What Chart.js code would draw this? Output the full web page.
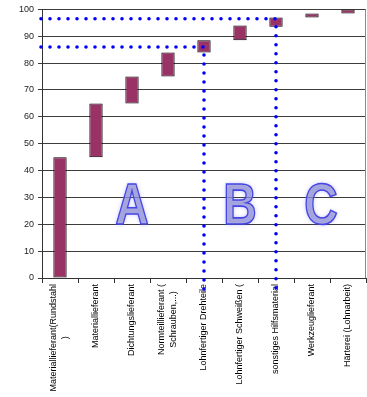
<!DOCTYPE html>
<html>
<head>
<meta charset="utf-8">
<script src="https://cdn.jsdelivr.net/npm/chart.js@4.4.0/dist/chart.umd.min.js"></script>
<style>
  html, body { margin: 0; padding: 0; background: #fff; }
  #wrap { width: 367px; height: 397px; }
</style>
</head>
<body>
<div id="wrap"><canvas id="abc-chart" width="367" height="397"></canvas></div>
<script>
// categories (suppliers), multi-line where the original wraps
const categories = [
  ['Materiallieferant(Rundstahl', ')'],
  'Materiallieferant',
  'Dichtungslieferant',
  ['Normteillieferant (', 'Schrauben,...)'],
  'Lohnfertiger Drehteile',
  'Lohnfertiger Schweißen (',
  'sonstiges Hilfsmaterial',
  'Werkzeuglieferant',
  'Härterei (Lohnarbeit)'
];

// cumulative share, floating bars from -> to
const shareFrom = [0, 45, 65, 75, 84, 88.5, 93.5, 97, 98.5];
const shareTo = [45, 65, 75, 84, 88.5, 94, 97, 98.5, 100];

const yTicks = [0, 10, 20, 30, 40, 50, 60, 70, 80, 90, 100];

// ABC class limits (cumulative %) and the category where each limit falls
const classLimits = [86, 96.5];
const limitCategory = [4, 6];
const classLetters = ['A', 'B', 'C'];

// draws the dotted class limits, the A/B/C letters, labels and right border
const abcPlugin = {
  id: 'abcPlugin',
  beforeDatasetsDraw(chart) {
    const { ctx, scales: { x, y } } = chart;
    const letterPos = [2, 5, 7.25];
    ctx.save();
    ctx.font = 'bold 58px "Liberation Sans", Arial, sans-serif';
    ctx.textAlign = 'center';
    ctx.textBaseline = 'alphabetic';
    classLetters.forEach((letter, i) => {
      const idx = letterPos[i];
      const lo = Math.floor(idx);
      const px = x.getPixelForValue(lo) + (idx - lo) * (x.getPixelForValue(1) - x.getPixelForValue(0));
      const py = y.getPixelForValue(20);
      ctx.save();
      ctx.translate(px, py);
      ctx.scale(0.8, 1);
      ctx.shadowColor = 'rgba(90, 90, 255, 0.7)';
      ctx.shadowBlur = 4;
      ctx.fillStyle = 'rgba(150, 150, 205, 0.65)';
      ctx.fillText(letter, 0, 0);
      ctx.shadowBlur = 0;
      ctx.lineWidth = 1.6;
      ctx.strokeStyle = '#4646e6';
      ctx.strokeText(letter, 0, 0);
      ctx.restore();
    });
    ctx.restore();
  },
  afterDraw(chart) {
    const { ctx, chartArea, scales: { x, y } } = chart;
    ctx.save();

    // right border of the plot area
    ctx.strokeStyle = '#8a8a8a';
    ctx.lineWidth = 1;
    ctx.beginPath();
    ctx.moveTo(chartArea.right - 0.5, chartArea.top);
    ctx.lineTo(chartArea.right - 0.5, chartArea.bottom);
    ctx.stroke();

    // category labels, rotated, lines centred on each other
    ctx.font = '9px "Liberation Sans", Arial, sans-serif';
    ctx.fillStyle = '#000';
    ctx.textAlign = 'center';
    ctx.textBaseline = 'middle';
    const top = chartArea.bottom + 6;
    const lineGap = 12;
    categories.forEach((label, i) => {
      const lines = Array.isArray(label) ? label : [label];
      const w = Math.max(...lines.map(l => ctx.measureText(l).width));
      const cx = x.getPixelForValue(i);
      lines.forEach((line, j) => {
        const lx = cx + (j - (lines.length - 1) / 2) * lineGap;
        ctx.save();
        ctx.translate(lx, top);
        ctx.rotate(-Math.PI / 2);
        ctx.fillText(line, -w / 2, 0);
        ctx.restore();
      });
    });

    // dotted class limits
    ctx.strokeStyle = '#0000ff';
    ctx.lineWidth = 3.6;
    ctx.lineCap = 'round';
    ctx.setLineDash([0, 9]);
    classLimits.forEach((limit, i) => {
      const py = y.getPixelForValue(limit);
      const px = x.getPixelForValue(limitCategory[i]);
      ctx.beginPath();
      ctx.moveTo(chartArea.left - 1, py);
      ctx.lineTo(px, py);
      ctx.lineTo(px, chartArea.bottom + 16);
      ctx.stroke();
    });
    ctx.restore();
  }
};

new Chart(document.getElementById('abc-chart'), {
  type: 'bar',
  data: {
    labels: categories,
    datasets: [{
      data: shareFrom.map((v, i) => [v, shareTo[i]]),
      backgroundColor: '#993366',
      borderColor: '#000',
      borderWidth: 1,
      borderSkipped: false,
      barPercentage: 0.37,
      categoryPercentage: 1
    }]
  },
  options: {
    responsive: false,
    devicePixelRatio: 1,
    animation: false,
    layout: { padding: { top: 3, right: 1, left: 0, bottom: 0 } },
    plugins: {
      legend: { display: false },
      tooltip: { enabled: false }
    },
    scales: {
      x: {
        offset: true,
        grid: {
          offset: true,
          drawOnChartArea: false,
          drawTicks: true,
          tickLength: 5,
          color: '#333'
        },
        border: { display: true, color: '#333' },
        ticks: { display: false },
        afterFit(scale) { scale.height = 119; }
      },
      y: {
        min: 0,
        max: 100,
        afterBuildTicks(scale) { scale.ticks = yTicks.map(v => ({ value: v })); },
        ticks: {
          color: '#222',
          padding: 4,
          font: { family: '"Liberation Sans", Arial, sans-serif', size: 9 }
        },
        grid: { color: '#3c3c3c', lineWidth: 1, tickLength: 4 },
        border: { display: true, color: '#333' },
        afterFit(scale) { scale.width = 42; }
      }
    }
  },
  plugins: [abcPlugin]
});
</script>
</body>
</html>
